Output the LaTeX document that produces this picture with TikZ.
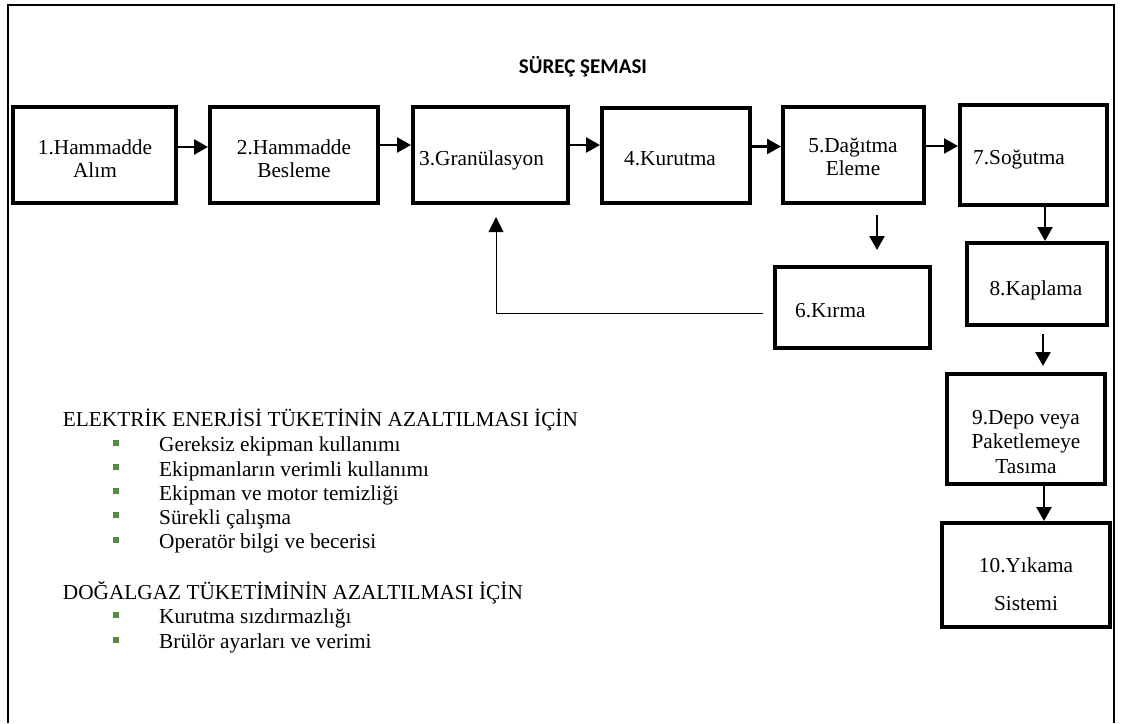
\documentclass[tikz,border=0pt]{standalone}
\usepackage{fontspec}
\setmainfont{Liberation Serif}
\newfontfamily\titlefont{Carlito}
\usetikzlibrary{arrows.meta,calc}
\definecolor{bulletgreen}{RGB}{84,140,60}

\begin{document}
\begin{tikzpicture}[x=1pt,y=-1pt,
  every node/.style={font=\fontsize{21.3pt}{23.5pt}\selectfont},
  pbox/.style={draw,line width=4pt,inner sep=0pt},
  lbl/.style={align=center,inner sep=0pt},
  lbll/.style={anchor=west,inner sep=0pt},
  arr/.style={line width=2.5pt,-{Triangle[length=14pt,width=15pt]}},
  fb/.style={line width=1pt,-{Triangle[length=15pt,width=15pt]}},
  bul/.style={fill=bulletgreen,minimum size=6pt,inner sep=0pt},
  head/.style={anchor=base west,inner sep=0pt},
  item/.style={anchor=base west,inner sep=0pt}]
\useasboundingbox (0,0) rectangle (1121,723);

% outer frame (open at the bottom edge of the page)
\draw[line width=2.5pt] (8,723) -- (8,5) -- (1114,5) -- (1114,723);

% title
\node[font=\titlefont\bfseries\fontsize{21pt}{24pt}\selectfont] (title) at (583,67) {SÜREÇ ŞEMASI};

% process step boxes
\node[pbox,minimum width=163pt,minimum height=96pt] (b1) at (94.5,155) {};
\node[pbox,minimum width=168pt,minimum height=96pt] (b2) at (294,155) {};
\node[pbox,minimum width=155pt,minimum height=96pt] (b3) at (490.5,155) {};
\node[pbox,minimum width=148pt,minimum height=95pt] (b4) at (676,155.5) {};
\node[pbox,minimum width=141pt,minimum height=96pt] (b5) at (853.5,155) {};
\node[pbox,minimum width=147pt,minimum height=100pt] (b7) at (1033.5,155) {};
\node[pbox,minimum width=140pt,minimum height=82pt] (b8) at (1037,284) {};
\node[pbox,minimum width=155pt,minimum height=81pt] (b6) at (852.5,307.5) {};
\node[pbox,minimum width=158pt,minimum height=110pt] (b9) at (1026,429) {};
\node[pbox,minimum width=168pt,minimum height=104pt] (b10) at (1026,575) {};

% step labels
\node[lbl] (t1) at (95,158.5) {1.Hammadde\\Alım};
\node[lbl] (t2) at (294,158.5) {2.Hammadde\\Besleme};
\node[lbll] (t3) at (419,160) {3.Granülasyon};
\node[lbll] (t4) at (624,158.5) {4.Kurutma};
\node[lbl] (t5) at (853,157) {5.Dağıtma\\Eleme};
\node[lbll] (t7) at (973,160) {7.Soğutma};
\node[lbl] (t8) at (1036,290) {8.Kaplama};
\node[lbll] (t6) at (795,310.5) {6.Kırma};
\node[lbl,font=\fontsize{21.3pt}{24.5pt}\selectfont] (t9) at (1026,442) {9.Depo veya\\Paketlemeye\\Tasıma};
\node[lbl,font=\fontsize{21.3pt}{38pt}\selectfont] (t10) at (1026,584) {10.Yıkama\\Sistemi};

% main flow
\draw[arr] ([yshift=8pt]b1.east) -- ([yshift=8pt]b1.east -| b2.west);
\draw[arr] ([yshift=10pt]b2.east) -- ([yshift=10pt]b2.east -| b3.west);
\draw[arr] ([yshift=10pt]b3.east) -- ([yshift=10pt]b3.east -| b4.west);
\draw[arr] ([yshift=9pt]b4.east) -- ([yshift=9pt]b4.east -| b5.west);
\draw[arr] ([yshift=9pt]b5.east) -- ([yshift=9pt]b5.east -| b7.west);

% screening to crushing
\coordinate (k1) at ($(b5.south)+(23.5,10)$);
\coordinate (k2) at ($(b6.north)+(0,-15)$);
\draw[arr] (k1) -- (k1 |- k2);

% cooling, coating, transport, washing
\draw[arr] ([xshift=11.5pt]b7.south) -- ([xshift=11.5pt]b7.south |- b8.north);
\coordinate (k3) at ($(b8.south)+(6,7)$);
\coordinate (k4) at ($(b9.north)+(0,-6)$);
\draw[arr] (k3) -- (k3 |- k4);
\draw[arr] ([xshift=18pt]b9.south) -- ([xshift=18pt]b9.south |- b10.north);

% crushed material back to granulation
\coordinate (k5) at ($(b6.west)+(-10,5.5)$);
\coordinate (k6) at ($(b3.south)+(5.5,12)$);
\draw[fb] (k5) -| (k6);

% savings lists
\node[head] (h1) at (62.7,426.7) {ELEKTRİK ENERJİSİ TÜKETİNİN AZALTILMASI İÇİN};
\node[bul] (p1) at (115.7,443) {};
\node[item] (i1) at (159,451.7) {Gereksiz ekipman kullanımı};
\node[bul] (p2) at (115.7,467.3) {};
\node[item] (i2) at (159,476) {Ekipmanların verimli kullanımı};
\node[bul] (p3) at (115.7,491.3) {};
\node[item] (i3) at (159,500) {Ekipman ve motor temizliği};
\node[bul] (p4) at (115.7,515.3) {};
\node[item] (i4) at (159,524) {Sürekli çalışma};
\node[bul] (p5) at (115.7,539.6) {};
\node[item] (i5) at (159,548.3) {Operatör bilgi ve becerisi};

\node[head] (h2) at (62.7,599) {DOĞALGAZ TÜKETİMİNİN AZALTILMASI İÇİN};
\node[bul] (p6) at (115.7,614.6) {};
\node[item] (i6) at (159,623.3) {Kurutma sızdırmazlığı};
\node[bul] (p7) at (115.7,639.6) {};
\node[item] (i7) at (159,648.3) {Brülör ayarları ve verimi};
\end{tikzpicture}
\end{document}
